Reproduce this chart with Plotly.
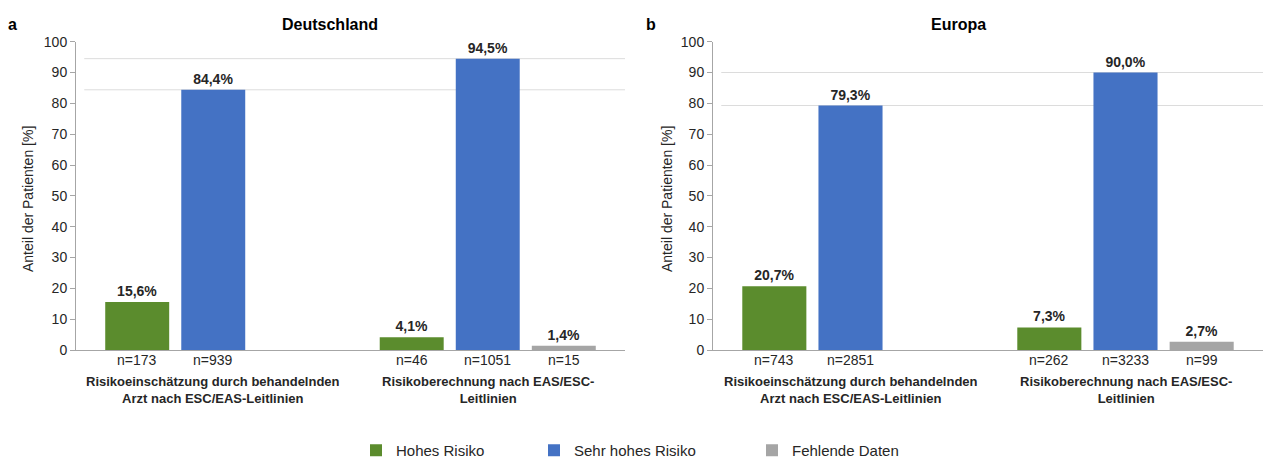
import plotly.graph_objects as go

# ---- data ----
categories = ["Risikoeinschätzung durch behandelnden<br>Arzt nach ESC/EAS-Leitlinien",
              "Risikoberechnung nach EAS/ESC-<br>Leitlinien"]
series_names = ["Hohes Risiko", "Sehr hohes Risiko", "Fehlende Daten"]
series_colors = ["#5B8C2D", "#4472C4", "#A5A5A5"]

de_hohes = [15.6, 4.1]
de_sehr = [84.4, 94.5]
de_fehl = [None, 1.4]
de_n_hohes = [173, 46]
de_n_sehr = [939, 1051]
de_n_fehl = [None, 15]

eu_hohes = [20.7, 7.3]
eu_sehr = [79.3, 90.0]
eu_fehl = [None, 2.7]
eu_n_hohes = [743, 262]
eu_n_sehr = [2851, 3233]
eu_n_fehl = [None, 99]

panels = [
    dict(title="Deutschland", letter="a", vals=[de_hohes, de_sehr, de_fehl],
         ns=[de_n_hohes, de_n_sehr, de_n_fehl]),
    dict(title="Europa", letter="b", vals=[eu_hohes, eu_sehr, eu_fehl],
         ns=[eu_n_hohes, eu_n_sehr, eu_n_fehl]),
]

W, H = 1263, 462
FONT = "Liberation Sans, Arial, sans-serif"
TXT = "#262626"

x_domains = [[76 / W, 625 / W], [713 / W, 1.0]]
y_domain = [(H - 350) / H, (H - 41.7) / H]
slot = 0.277
bar_w = 0.233

title_x = [330, 958]
letter_x = [12, 651]
ytitle_x = [28, 667]
legend_x = [356, 534, 752]

fig = go.Figure()
annotations = []
shapes = []

def fmt(v):
    return f"{v:.1f}".replace(".", ",") + "%"

for p_i, p in enumerate(panels):
    xa = "x" if p_i == 0 else "x2"
    ya = "y" if p_i == 0 else "y2"
    for s_i, (vals, ns) in enumerate(zip(p["vals"], p["ns"])):
        xs, ys, texts = [], [], []
        for c_i, v in enumerate(vals):
            if v is None:
                continue
            pos = c_i + (s_i - 1) * slot
            xs.append(pos)
            ys.append(v)
            texts.append(fmt(v))
            annotations.append(dict(
                x=pos, y=0, xref=xa, yref=ya, text=f"n={ns[c_i]}",
                showarrow=False, yanchor="top", yshift=0,
                font=dict(size=14, color=TXT, family=FONT)))
        fig.add_trace(go.Bar(
            x=xs, y=ys, width=bar_w, name=series_names[s_i],
            marker=dict(color=series_colors[s_i], line=dict(width=0)),
            text=texts, textposition="outside", cliponaxis=False,
            textfont=dict(size=14, color=TXT, family=FONT, weight="bold"),
            xaxis=xa, yaxis=ya, showlegend=(p_i == 0),
            legend="legend" if s_i == 0 else f"legend{s_i + 1}"))
    # reference lines at the top of the "Sehr hohes Risiko" bars
    for v in p["vals"][1]:
        shapes.append(dict(type="line", xref=f"{xa} domain", yref=ya,
                           x0=0.015, x1=1.0, y0=v, y1=v,
                           line=dict(color="#dcdcdc", width=1), layer="below"))
    # category labels
    for c_i, cat in enumerate(categories):
        annotations.append(dict(
            x=c_i, y=0, xref=xa, yref=ya, text=cat, showarrow=False,
            yanchor="top", yshift=-22,
            font=dict(size=13, color=TXT, family=FONT, weight="bold")))
    annotations.append(dict(
        x=title_x[p_i] / W, y=(H - 24) / H, xref="paper", yref="paper",
        text=p["title"], showarrow=False, xanchor="center", yanchor="middle",
        font=dict(size=16, color="#000", family=FONT, weight="bold")))
    annotations.append(dict(
        x=letter_x[p_i] / W, y=(H - 24) / H, xref="paper", yref="paper",
        text=p["letter"], showarrow=False, xanchor="center", yanchor="middle",
        font=dict(size=16, color="#000", family=FONT, weight="bold")))
    annotations.append(dict(
        x=ytitle_x[p_i] / W, y=(H - 199) / H, xref="paper", yref="paper",
        text="Anteil der Patienten [%]", showarrow=False, textangle=-90,
        xanchor="center", yanchor="middle",
        font=dict(size=14, color=TXT, family=FONT)))

yaxis_common = dict(
    range=[0, 100], dtick=10, showgrid=False, zeroline=False,
    showline=True, linecolor="#a6a6a6", linewidth=1,
    ticks="outside", ticklen=5, tickcolor="#a6a6a6",
    tickfont=dict(size=14, color=TXT, family=FONT),
    domain=y_domain)
xaxis_common = dict(
    range=[-0.5, 1.5], showgrid=False, zeroline=False, showticklabels=False,
    showline=True, linecolor="#a6a6a6", linewidth=1, ticks="")

legend_common = dict(orientation="h", xanchor="left", y=-5 / H, yanchor="bottom",
                     font=dict(size=15, color=TXT, family=FONT),
                     bgcolor="rgba(0,0,0,0)")

fig.update_layout(
    width=W, height=H, margin=dict(l=0, r=0, t=0, b=0, autoexpand=False),
    plot_bgcolor="white", paper_bgcolor="white",
    barmode="overlay",
    font=dict(family=FONT, color=TXT),
    xaxis=dict(**xaxis_common, domain=x_domains[0], anchor="y"),
    xaxis2=dict(**xaxis_common, domain=x_domains[1], anchor="y2"),
    yaxis=dict(**yaxis_common, anchor="x"),
    yaxis2=dict(**yaxis_common, anchor="x2"),
    annotations=annotations, shapes=shapes,
    legend=dict(**legend_common, x=legend_x[0] / W),
    legend2=dict(**legend_common, x=legend_x[1] / W),
    legend3=dict(**legend_common, x=legend_x[2] / W),
)

fig.write_html("out.html", config={"displayModeBar": False},
               post_script="document.body.style.margin='0';document.body.style.overflow='hidden';")
